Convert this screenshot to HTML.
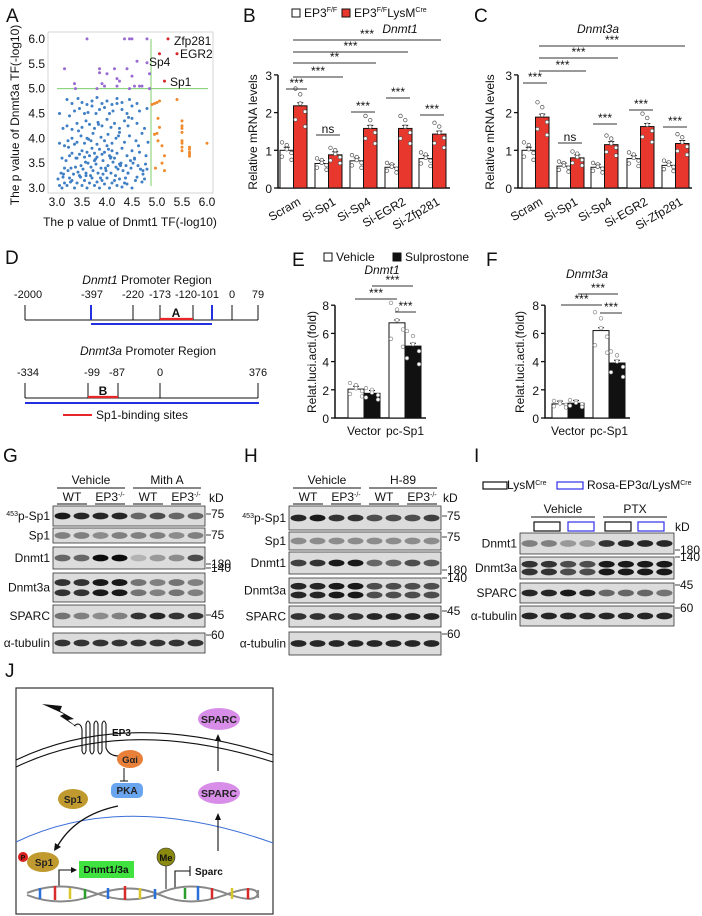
<!DOCTYPE html>
<html><head><meta charset="utf-8">
<style>
html,body{margin:0;padding:0;background:#fff;}
svg{display:block;font-family:"Liberation Sans",Arial,sans-serif;}
.t{font-size:12px;fill:#111}
.s{font-size:11px;fill:#111}
.L{font-size:19px;fill:#111}
.it{font-style:italic}
</style></head>
<body>
<svg id="fig" width="702" height="916" viewBox="0 0 702 916" xmlns="http://www.w3.org/2000/svg">
<g>
<text class="L" x="6" y="22">A</text>
<text class="L" x="243" y="22">B</text>
<text class="L" x="474" y="22">C</text>
<text class="L" x="5" y="264">D</text>
<text class="L" x="292" y="266">E</text>
<text class="L" x="486" y="266">F</text>
<text class="L" x="3" y="462">G</text>
<text class="L" x="244" y="462">H</text>
<text class="L" x="474" y="462">I</text>
<text class="L" x="5" y="677">J</text>
</g>

<g id="pa">
<rect x="48" y="32" width="165" height="161" fill="none" stroke="#ccc" stroke-width="0.8"/>
<text class="t" x="130" y="226" text-anchor="middle">The p value of Dnmt1 TF(-log10)</text>
<text class="t" x="0" y="0" text-anchor="middle" transform="translate(19,115) rotate(-90)">The p value of Dnmt3a TF(-log10)</text>
</g>

<g>
<rect x="292" y="9" width="8" height="8" fill="#fff" stroke="#111"/>
<text class="t" x="304" y="17">EP3<tspan font-size="7" dy="-5">F/F</tspan></text>
<rect x="342" y="9" width="8" height="8" fill="#e8382e" stroke="#111"/>
<text class="t" x="354" y="17">EP3<tspan font-size="7" dy="-5">F/F</tspan><tspan dy="5">LysM</tspan><tspan font-size="7" dy="-5">Cre</tspan></text>
</g>
<text class="t it" x="400" y="33" text-anchor="middle">Dnmt1</text>
<text class="t it" x="598" y="33" text-anchor="middle">Dnmt3a</text>
<text class="t" x="0" y="0" text-anchor="middle" transform="translate(257,132) rotate(-90)">Relative mRNA levels</text>
<text class="t" x="0" y="0" text-anchor="middle" transform="translate(494,132) rotate(-90)">Relative mRNA levels</text>

<g>
<text class="t" x="147" y="284" text-anchor="middle"><tspan font-style="italic">Dnmt1</tspan> Promoter Region</text>
<g class="s" font-size="10.5">
<text x="28" y="298" text-anchor="middle">-2000</text>
<text x="92" y="298" text-anchor="middle">-397</text>
<text x="133" y="298" text-anchor="middle">-220</text>
<text x="160" y="298" text-anchor="middle">-173</text>
<text x="197" y="298" text-anchor="middle">-120-101</text>
<text x="232" y="298" text-anchor="middle">0</text>
<text x="258" y="298" text-anchor="middle">79</text>
</g>
<text class="t" x="148" y="355" text-anchor="middle"><tspan font-style="italic">Dnmt3a</tspan> Promoter Region</text>
<g class="s" font-size="10.5">
<text x="28" y="376" text-anchor="middle">-334</text>
<text x="92" y="376" text-anchor="middle">-99</text>
<text x="117" y="376" text-anchor="middle">-87</text>
<text x="160" y="376" text-anchor="middle">0</text>
<text x="258" y="376" text-anchor="middle">376</text>
</g>
</g>

<g>
<rect x="324" y="253" width="8" height="8" fill="#fff" stroke="#111"/>
<text class="t" x="336" y="261">Vehicle</text>
<rect x="393" y="253" width="8" height="8" fill="#111" stroke="#111"/>
<text class="t" x="405" y="261">Sulprostone</text>
</g>
<text class="t it" x="382" y="274" text-anchor="middle">Dnmt1</text>
<text class="t it" x="587" y="278" text-anchor="middle">Dnmt3a</text>
<text class="t" x="0" y="0" text-anchor="middle" transform="translate(316,362) rotate(-90)">Relat.luci.acti.(fold)</text>
<text class="t" x="0" y="0" text-anchor="middle" transform="translate(524,362) rotate(-90)">Relat.luci.acti.(fold)</text>

<g id="dyn"></g>

<!-- Panel J schematic -->
<g font-family="Liberation Sans, Arial, sans-serif">
<rect x="16" y="688" width="257" height="226" fill="#fff" stroke="#333" stroke-width="1.2"/>
<path d="M16,760 Q125,708 273,755" fill="none" stroke="#111" stroke-width="1.1"/>
<path d="M16,767 Q125,715 273,762" fill="none" stroke="#111" stroke-width="1.1"/>
<path d="M16,842 Q125,790 273,843" fill="none" stroke="#3b6fd8" stroke-width="1"/>
<path d="M42,704 L62,706 L60,711 L74,719 L68,720 L78,728 L60,716 L64,714 Z" fill="#111"/>
<path d="M74,726 q6,-5 8,3 v22 q2,6 4,0 v-27 q2,-6 4,0 v27 q2,6 4,0 v-27 q2,-6 4,0 v27 q2,6 4,0 v-27 q2,-6 4,0 v24 q3,8 13,8" fill="none" stroke="#111" stroke-width="1.1"/>
<text x="112" y="736" font-size="10" font-weight="bold" fill="#111">EP3</text>
<ellipse cx="130" cy="759" rx="13" ry="9" fill="#e8803a"/>
<text x="130" y="763" font-size="9.5" font-weight="bold" text-anchor="middle" fill="#222">Gαi</text>
<path d="M124,768 V781 M120,781 H128" stroke="#111" stroke-width="1"/>
<rect x="111" y="783" width="32" height="15" rx="5" fill="#6aa6f0"/>
<text x="127" y="794" font-size="10" font-weight="bold" text-anchor="middle" fill="#222">PKA</text>
<ellipse cx="73" cy="799" rx="15" ry="10" fill="#c09a2e"/>
<text x="73" y="803" font-size="10" font-weight="bold" text-anchor="middle" fill="#222">Sp1</text>
<path d="M118,806 Q75,815 57,847" fill="none" stroke="#111" stroke-width="1.4"/>
<path d="M54,851 l1,-8 l6,4 z" fill="#111"/>
<ellipse cx="43" cy="862" rx="16" ry="10" fill="#c09a2e"/>
<text x="44" y="866" font-size="10" font-weight="bold" text-anchor="middle" fill="#222">Sp1</text>
<circle cx="23" cy="857" r="5" fill="#d91e1e"/>
<text x="23" y="860" font-size="7" font-weight="bold" text-anchor="middle" fill="#111">P</text>
<path d="M59,887 V870 H72" fill="none" stroke="#111" stroke-width="1.1"/>
<path d="M77,870 l-6,-3 v6 z" fill="#111"/>
<rect x="79" y="861" width="55" height="17" fill="#3fe23f"/>
<text x="106" y="873" font-size="10" font-weight="bold" text-anchor="middle" fill="#111">Dnmt1/3a</text>
<line x1="166" y1="866" x2="166" y2="889" stroke="#111" stroke-width="1"/>
<circle cx="166" cy="857" r="9" fill="#8a8a10" stroke="#333" stroke-width="0.6"/>
<text x="166" y="861" font-size="9.5" font-weight="bold" text-anchor="middle" fill="#111">Me</text>
<path d="M175,889 V871 H190 M190,866 V876" fill="none" stroke="#111" stroke-width="1.1"/>
<text x="195" y="875" font-size="10" font-weight="bold" fill="#111">Sparc</text>
<path d="M218,851 V818 M218,771 V740" stroke="#111" stroke-width="1.1"/>
<path d="M218,813 l-3,7 h6 z M218,734 l-3,7 h6 z" fill="#111"/>
<ellipse cx="219" cy="793" rx="21" ry="11" fill="#d88ee8"/>
<text x="219" y="797" font-size="10.5" font-weight="bold" text-anchor="middle" fill="#222">SPARC</text>
<ellipse cx="219" cy="719" rx="21" ry="11" fill="#d88ee8"/>
<text x="219" y="723" font-size="10.5" font-weight="bold" text-anchor="middle" fill="#222">SPARC</text>
<path d="M27,893 Q60,880 95,893 T160,893 T225,893 T258,890" fill="none" stroke="#888" stroke-width="2"/>
<path d="M27,895 Q60,908 95,895 T160,895 T225,895 T258,898" fill="none" stroke="#888" stroke-width="2"/>
<g stroke-width="2.5">
<line x1="40" y1="888" x2="40" y2="899" stroke="#2b6fd8"/><line x1="55" y1="886" x2="55" y2="900" stroke="#d82b2b"/><line x1="70" y1="888" x2="70" y2="899" stroke="#d8c72b"/><line x1="85" y1="889" x2="85" y2="899" stroke="#2b9d2b"/><line x1="108" y1="888" x2="108" y2="899" stroke="#2b6fd8"/><line x1="125" y1="886" x2="125" y2="900" stroke="#d82b2b"/><line x1="140" y1="888" x2="140" y2="899" stroke="#d8c72b"/><line x1="155" y1="889" x2="155" y2="899" stroke="#2b6fd8"/><line x1="185" y1="888" x2="185" y2="899" stroke="#2b9d2b"/><line x1="198" y1="886" x2="198" y2="900" stroke="#2b6fd8"/><line x1="212" y1="888" x2="212" y2="899" stroke="#d82b2b"/><line x1="232" y1="888" x2="232" y2="899" stroke="#d8c72b"/><line x1="248" y1="888" x2="248" y2="899" stroke="#d82b2b"/>
</g>
</g>
</svg>

<script>
// ---------- data ----------
const orangeX=[4.9,4.95,5.0,5.05,5.4,5.02,5.05,5.0,4.95,5.02,5.1,5.15,5.1,4.97,5.15,5.5,5.5,5.5,5.5,5.5,5.5,5.5,5.5,5.65,5.65,5.65,5.65,5.65,6.0];
const orangeY=[4.68,4.7,4.72,4.75,4.78,4.4,4.22,4.1,4.08,3.95,3.85,3.65,3.5,3.4,3.35,4.35,4.25,4.2,4.12,3.95,3.9,3.82,3.75,3.82,3.78,3.72,3.68,3.64,3.9];
const purpleX=[3.6,4.35,4.45,4.5,4.8,3.15,3.85,4.15,4.4,3.85,4.0,4.2,4.25,4.5,4.6,4.8,4.85,3.35,3.37,3.9,3.95,4.2,4.45,4.55,4.65,4.7,3.8,4.85];
const purpleY=[6.0,6.0,6.0,6.0,6.0,5.4,5.4,5.4,5.4,5.32,5.3,5.2,5.15,5.25,5.55,5.52,5.3,5.1,5.0,5.1,5.05,5.05,5.0,5.05,5.05,5.05,5.0,5.0];
const redX=[5.22,5.05,5.4,5.15];
const redY=[6.0,5.7,5.7,5.15];
const blueX=[3.05,3.1,3.15,3.2,3.25,3.3,3.35,3.4,3.45,3.5,3.55,3.6,3.65,3.7,3.75,3.8,3.85,3.9,3.95,4.0,4.05,4.1,4.15,4.2,4.25,4.3,4.35,4.4,4.5,4.6,4.7,4.75,
3.08,3.12,3.22,3.28,3.33,3.42,3.48,3.52,3.58,3.62,3.68,3.72,3.78,3.82,3.88,3.92,3.98,4.02,4.08,4.12,4.18,4.22,4.28,4.32,4.38,4.42,4.48,4.52,4.62,4.72,4.8,
3.1,3.18,3.25,3.3,3.38,3.45,3.5,3.55,3.6,3.65,3.7,3.75,3.8,3.85,3.9,3.95,4.0,4.05,4.1,4.15,4.2,4.3,4.4,4.5,4.55,4.65,4.78,
3.05,3.15,3.22,3.3,3.35,3.4,3.48,3.55,3.6,3.68,3.72,3.8,3.88,3.95,4.02,4.1,4.18,4.25,4.35,4.45,4.58,4.7,4.82,
3.12,3.2,3.3,3.4,3.5,3.58,3.65,3.75,3.82,3.9,4.0,4.08,4.15,4.25,4.35,4.42,4.5,4.6,4.75,
3.05,3.25,3.35,3.45,3.55,3.62,3.7,3.78,3.85,3.95,4.05,4.12,4.2,4.3,4.4,4.5,4.65,4.8,
3.2,3.3,3.42,3.5,3.6,3.7,3.8,3.9,4.0,4.1,4.2,4.3,4.45,4.6,3.15,3.4,3.58,3.75,3.92,4.08,4.25,4.42,4.55,4.72,
3.02,3.13,3.27,3.37,3.47,3.57,3.67,3.77,3.87,3.97,4.07,4.17,4.27,4.37,4.47,4.57,4.67,4.77,3.23,3.43,3.63,3.83,4.03,4.23,4.43,4.63];
const blueY=[3.05,3.0,3.1,3.05,3.2,3.15,3.0,3.1,3.25,3.05,3.15,3.0,3.1,3.2,3.05,3.12,3.0,3.15,3.08,3.2,3.0,3.1,3.15,3.05,3.18,3.02,3.1,3.08,3.0,3.22,3.12,3.18,
3.3,3.22,3.35,3.4,3.28,3.32,3.45,3.38,3.3,3.5,3.42,3.35,3.48,3.3,3.4,3.55,3.35,3.45,3.3,3.52,3.42,3.38,3.5,3.35,3.45,3.3,3.4,3.5,3.45,3.35,3.38,
3.6,3.55,3.65,3.7,3.6,3.68,3.75,3.62,3.72,3.65,3.8,3.7,3.62,3.78,3.68,3.72,3.85,3.65,3.75,3.6,3.7,3.8,3.65,3.75,3.6,3.72,3.65,
3.9,3.85,3.95,4.0,3.88,3.92,4.05,3.9,4.0,3.95,4.1,3.88,4.02,3.95,4.08,3.9,4.0,4.12,3.92,4.05,3.95,4.1,3.92,
4.2,4.25,4.18,4.3,4.22,4.35,4.28,4.2,4.32,4.25,4.38,4.22,4.3,4.2,4.35,4.25,4.4,4.3,4.2,
4.5,4.45,4.55,4.6,4.5,4.52,4.65,4.5,4.58,4.62,4.5,4.55,4.7,4.58,4.5,4.65,4.55,4.6,
4.78,4.7,4.8,4.72,4.68,4.75,4.82,4.7,4.75,4.68,4.8,4.72,4.78,4.7,3.4,3.6,3.25,3.55,3.28,3.62,3.48,3.3,3.58,3.28,
3.18,3.28,3.12,3.42,3.22,3.52,3.25,3.58,3.2,3.4,3.6,3.25,3.45,3.2,3.55,3.15,3.38,3.48,3.82,4.15,3.98,4.28,3.78,4.05,4.42,3.85];
const aXTicks=["3.0","3.5","4.0","4.5","5.0","5.5","6.0"];
const aYTicks=["3.0","3.5","4.0","4.5","5.0","5.5","6.0"];

const bcCategories=["Scram","Si-Sp1","Si-Sp4","Si-EGR2","Si-Zfp281"];
const bControl=[1.0,0.65,0.72,0.55,0.78];
const bKO=[2.18,0.88,1.58,1.58,1.43];
const cControl=[1.0,0.58,0.55,0.78,0.6];
const cKO=[1.88,0.8,1.15,1.63,1.18];
const bcYTicks=["0","1","2","3"];

const efCategories=["Vector","pc-Sp1"];
const eVehicle=[2.05,6.75];
const eSulp=[1.75,5.1];
const fVehicle=[1.0,6.2];
const fSulp=[1.05,3.9];
const efYTicks=["0","2","4","6","8"];

const gIntensity=[[.9,.85,.85,.85,.6,.7,.6,.6],[.5,.5,.45,.5,.5,.5,.45,.5],[.6,.6,.95,.95,.3,.4,.45,.7],[.8,.8,.9,.9,.55,.5,.55,.5],[.55,.5,.45,.5,.8,.85,.8,.8],[.8,.8,.8,.8,.8,.8,.8,.8]];
const hIntensity=[[.85,.9,.8,.8,.7,.7,.7,.75],[.45,.45,.45,.45,.45,.45,.45,.45],[.75,.8,.9,.9,.6,.6,.7,.65],[.85,.85,.9,.9,.7,.7,.7,.7],[.8,.8,.8,.8,.85,.85,.85,.85],[.85,.85,.85,.85,.85,.85,.85,.85]];
const iIntensity=[[.5,.5,.4,.4,.8,.85,.85,.85],[.8,.8,.7,.7,.9,.9,.9,.9],[.85,.85,.9,.85,.6,.6,.6,.55],[.85,.85,.85,.85,.85,.85,.85,.85]];
const blotLabels=["453p-Sp1","Sp1","Dnmt1","Dnmt3a","SPARC","α-tubulin"];

// ---------- helpers ----------
const NS="http://www.w3.org/2000/svg";
const root=document.getElementById('dyn');
function mk(tag,attrs,parent){const e=document.createElementNS(NS,tag);for(const k in attrs)e.setAttribute(k,attrs[k]);(parent||root).appendChild(e);return e;}
function txt(x,y,s,attrs,parent){const e=mk('text',Object.assign({x:x,y:y,'class':'t'},attrs||{}),parent);e.textContent=s;return e;}

// ---------- Panel A ----------
const ax=v=>57+(v-3)*50, ay=v=>188-(v-3)*49.7;
aXTicks.forEach(t=>{const e=txt(ax(+t),206,t,{'text-anchor':'middle','font-size':'12.5'});

});
aYTicks.forEach(t=>{const e=txt(45,ay(+t)+4,t,{'text-anchor':'end','font-size':'12.5'});

});
function pts(X,Y,c,nm){X.forEach((x,i)=>{const e=mk('circle',{cx:ax(x),cy:ay(Y[i]),r:1.5,fill:c});

});}
let g1=mk('line',{x1:57,y1:ay(5),x2:208,y2:ay(5),stroke:'#7ccf6a','stroke-width':1});


let g2=mk('line',{x1:ax(4.88),y1:39,x2:ax(4.88),y2:186,stroke:'#7ccf6a','stroke-width':1});


pts(blueX,blueY,'#3f7fc4','blue-point');
pts(orangeX,orangeY,'#f08a2c','orange-point');
pts(purpleX,purpleY,'#9a6bd3','purple-point');
pts(redX,redY,'#d6262a','red-point');
[["Zfp281",174,45,'#111'],["EGR2",180,58,'#111'],["Sp4",149,66,'#111'],["Sp1",170,86,'#e8262a']].forEach(a=>{
const e=txt(a[1],a[2],a[0],{fill:a[3],'font-size':'12.5'});

});

// ---------- bar charts ----------
function barChart(o){
 const y=v=>o.y0-v*o.k;
 const axl=mk('path',{d:`M${o.ax},${y(o.ymax)}V${o.y0}H${o.xend}`,stroke:'#111','stroke-width':1.5,fill:'none'});
 
 
 o.ticks.forEach(t=>{const v=+t;
  const tl=mk('line',{x1:o.ax-4,y1:y(v),x2:o.ax,y2:y(v),stroke:'#111','stroke-width':1.3});
  
  
  const tt=txt(o.ax-6,y(v)+5,t,{'text-anchor':'end','font-size':o.fs});
  
  });
 o.cats.forEach((c,i)=>{
  const x0=o.starts[i];
  [[o.a[i],o.c1],[o.b[i],o.c2]].forEach((p,j)=>{
   const bx=x0+j*o.w;
   const r=mk('rect',{x:bx,y:y(p[0]),width:o.w,height:o.y0-y(p[0]),fill:p[1],stroke:'#111','stroke-width':1});
   
   
   const eb=mk('path',{d:`M${bx+o.w/2-3},${y(p[0]+o.err)}h6M${bx+o.w/2},${y(p[0]+o.err)}V${y(p[0])}`,stroke:'#111','stroke-width':1,fill:'none'});
   
   
   [-0.12,0.1,-0.05,0.15,0.02,-0.18].forEach((d,m)=>{
    const ci=mk('circle',{cx:bx+2+(m%3)*(o.w-4)/2,cy:y(Math.max(0.05,p[0]+d*p[0]*1.4)),r:1.8,fill:'#fff',stroke:o.dot,'stroke-width':0.7});
    
    });
  });
  const lx=x0+o.w,ly=o.y0+12;
  const lt=txt(0,0,c,{'text-anchor':o.rot?'end':'middle','font-size':o.fs,transform:o.rot?`translate(${lx+8},${ly+4}) rotate(-30)`:`translate(${lx},${ly+5})`});
  
  
 });
}
function sig(x1,x2,yy,s){
 const l=mk('line',{x1:x1,y1:yy,x2:x2,y2:yy,stroke:'#333','stroke-width':1});
 
 
 const t=txt((x1+x2)/2,yy-2,s,{'text-anchor':'middle','font-size':s=='ns'?'12':'13',fill:'#333'});
 
 
}
barChart({nm:'b',cats:bcCategories,a:bControl,b:bKO,starts:[280,315,350,385,419],w:13.5,ax:278,xend:450,y0:188,k:37.7,ymax:3,ticks:bcYTicks,c1:'#fff',c2:'#e8382e',dot:'#555',err:0.08,fs:'13',rot:true});
sig(286,307,89,'***');
[[328,135,'ns'],[363,112,'***'],[398,98,'***'],[432,115,'***']].forEach(a=>sig(a[0]-12,a[0]+12,a[1],a[2]));
sig(293,343,77,'***');sig(293,376,63,'**');sig(293,408,52,'***');sig(293,441,40,'***');
barChart({nm:'c',cats:bcCategories,a:cControl,b:cKO,starts:[522,557,591,627,662],w:13.5,ax:518,xend:692,y0:188,k:37.7,ymax:3,ticks:bcYTicks,c1:'#fff',c2:'#e8382e',dot:'#555',err:0.08,fs:'13',rot:true});
[[535,83,'***'],[570,143,'ns'],[605,124,'***'],[641,110,'***'],[675,127,'***']].forEach(a=>sig(a[0]-12,a[0]+12,a[1],a[2]));
sig(539,586,71,'***');sig(539,618,58,'***');sig(539,685,46,'***');
barChart({nm:'e',cats:efCategories,a:eVehicle,b:eSulp,starts:[348,389],w:16,ax:335,xend:426,y0:418,k:14.1,ymax:8,ticks:efYTicks,c1:'#fff',c2:'#111',dot:'#888',err:0.2,fs:'12.5',rot:false});
sig(355,397,299,'***');sig(372,413,286,'***');sig(395,416,312,'***');
barChart({nm:'f',cats:efCategories,a:fVehicle,b:fSulp,starts:[552,593],w:16,ax:545,xend:630,y0:418,k:14.1,ymax:8,ticks:efYTicks,c1:'#fff',c2:'#111',dot:'#888',err:0.2,fs:'12.5',rot:false});
sig(561,602,305,'***');sig(578,618,294,'***');sig(600,622,313,'***');

// ---------- Panel D rulers ----------
function ruler(ticks,blueTicks,yline,ytop){
 const l=mk('line',{x1:ticks[0],y1:yline,x2:ticks[ticks.length-1],y2:yline,stroke:'#111','stroke-width':1});
 
 
 ticks.forEach(x=>{const t=mk('line',{x1:x,y1:ytop,x2:x,y2:yline,stroke:blueTicks.includes(x)?'#2230e0':'#111','stroke-width':blueTicks.includes(x)?2:1});
 
 });
}
ruler([25,91,133,160,193,212,232,258],[91,212],320,305);
let r1=mk('line',{x1:160,y1:319,x2:193,y2:319,stroke:'#e8262a','stroke-width':2.2});


let bl1=mk('line',{x1:91,y1:324,x2:212,y2:324,stroke:'#2230e0','stroke-width':2});


let tA=txt(176,317,'A',{'text-anchor':'middle',fill:'#e8262a','font-weight':'bold','font-size':'12'});


ruler([25,88,118,160,258],[],398,383);
let r2=mk('line',{x1:88,y1:397,x2:118,y2:397,stroke:'#e8262a','stroke-width':2.2});


let bl2=mk('line',{x1:25,y1:403,x2:259,y2:403,stroke:'#2230e0','stroke-width':2});


let tB=txt(103,395,'B',{'text-anchor':'middle',fill:'#e8262a','font-weight':'bold','font-size':'12'});


let lg=mk('line',{x1:63,y1:415,x2:92,y2:415,stroke:'#e8262a','stroke-width':2});


let lgt=txt(96,419,'Sp1-binding sites',{'font-size':'12'});



// ---------- Western blots ----------
function blotPanel(x0,x1,rows,labels,ints,double){
 rows.forEach((r,i)=>{
  const bg=mk('rect',{x:x0,y:r[0],width:x1-x0,height:r[1]-r[0],fill:'#dcdcdc',stroke:'#333','stroke-width':0.8});
  
  
  const lw=(x1-x0)/8;
  ints[i].forEach((v,j)=>{
   const c=Math.round(255*(1-v));
   const ys=double[i]?[r[0]+(r[1]-r[0])*0.33,r[0]+(r[1]-r[0])*0.68]:[(r[0]+r[1])/2];
   ys.forEach(yy=>{const b=mk('ellipse',{cx:x0+lw*(j+0.5),cy:yy,rx:lw*0.42,ry:3.4,fill:`rgb(${c},${c},${c})`});
   
   });
  });
  const lb=labels[i];
  const lt=txt(x0-3,(r[0]+r[1])/2+4,'',{'text-anchor':'end','font-size':'12'});
  if(lb.startsWith('453')){lt.innerHTML='<tspan font-size="7" dy="-4">453</tspan><tspan dy="4">p-Sp1</tspan>';}else lt.textContent=lb;
  
  
 });
}
function marker(x,y,s){const l=mk('line',{x1:x,y1:y,x2:x+5,y2:y,stroke:'#111','stroke-width':0.8});


const t=txt(x+5,y+4,s,{'font-size':'12'});

}
function header(x0,x1,y,labels,yl){const w=(x1-x0)/labels.length;labels.forEach((s,i)=>{
const t=txt(x0+w*(i+0.5),y,'',{'text-anchor':'middle','font-size':'12'});
if(s.indexOf('-/-')>0){t.innerHTML='EP3<tspan font-size="7" dy="-4">-/-</tspan>';}else t.textContent=s;


const l=mk('line',{x1:x0+w*i+4,y1:yl,x2:x0+w*(i+1)-4,y2:yl,stroke:'#111','stroke-width':1});

});}
// G
header(53,205,484,["Vehicle","Mith A"],488);
header(53,205,501,["WT","EP3-/-","WT","EP3-/-"],504);
let kG=txt(209,502,'kD',{'font-size':'12'});
blotPanel(53,205,[[506,526],[528,543],[547,569],[573,602],[605,627],[633,653]],blotLabels,gIntensity,[0,0,0,1,0,0]);
marker(206,514,'75');marker(206,535,'75');marker(206,564,'180');marker(206,568,'140');marker(206,615,'45');marker(206,635,'60');
// H
header(289,441,484,["Vehicle","H-89"],488);
header(289,441,501,["WT","EP3-/-","WT","EP3-/-"],504);
let kH=txt(443,502,'kD',{'font-size':'12'});
blotPanel(289,441,[[506,530],[532,550],[552,574],[578,603],[606,627],[632,655]],blotLabels,hIntensity,[0,0,0,1,0,0]);
marker(442,516,'75');marker(442,537,'75');marker(442,570,'180');marker(442,578,'140');marker(442,611,'45');marker(442,634,'60');
// I
let lr1=mk('rect',{x:483,y:482,width:24,height:7,fill:'none',stroke:'#111','stroke-width':1.2});

let li1=txt(507,489,'',{'font-size':'11.5'});li1.innerHTML='LysM<tspan font-size="7" dy="-4">Cre</tspan>';

let lr2=mk('rect',{x:557,y:482,width:26,height:7,fill:'none',stroke:'#3030e8','stroke-width':1.2});

let li2=txt(587,489,'',{'font-size':'11.5'});li2.innerHTML='Rosa-EP3α/LysM<tspan font-size="7" dy="-4">Cre</tspan>';

header(527,671,513,["Vehicle","PTX"],517);
[[534,'#111'],[568,'#3030e8'],[605,'#111'],[638,'#3030e8']].forEach(a=>{const r=mk('rect',{x:a[0],y:522,width:26,height:9,fill:'none',stroke:a[1],'stroke-width':1.2});
});
let kI=txt(675,531,'kD',{'font-size':'12'});
blotPanel(520,674,[[533,554],[557,579],[583,603],[606,626]],["Dnmt1","Dnmt3a","SPARC","α-tubulin"],iIntensity,[0,1,0,0]);
marker(675,550,'180');marker(675,557,'140');marker(675,585,'45');marker(675,608,'60');
</script>
</body></html>
